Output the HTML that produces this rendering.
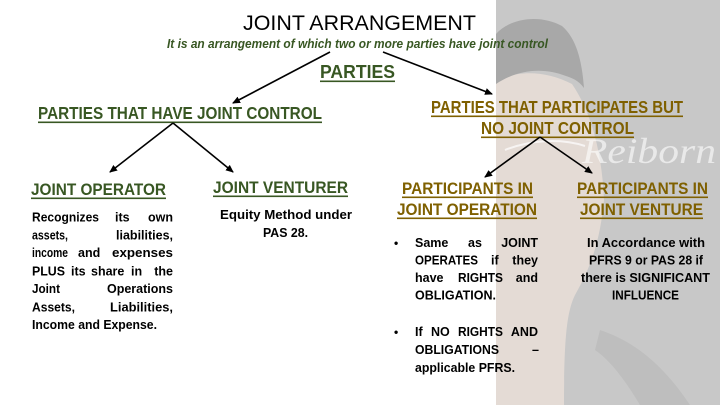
<!DOCTYPE html>
<html><head><meta charset="utf-8"><style>
html,body{margin:0;padding:0;background:#fff;}
svg{display:block;}
.h{font-family:"Liberation Sans",sans-serif;font-weight:bold;}
.p{font-family:"Liberation Sans",sans-serif;font-weight:bold;font-size:12.5px;fill:#000;}
.g{fill:#385723;}
.o{fill:#7f6000;}
</style></head><body>
<svg width="720" height="405" viewBox="0 0 720 405" xmlns="http://www.w3.org/2000/svg">
<defs>
<marker id="ah" markerWidth="8" markerHeight="8" refX="7" refY="4" orient="auto" markerUnits="userSpaceOnUse">
<path d="M0,0.5 L8,4 L0,7.5 Z" fill="#000"/>
</marker>
</defs>
<rect x="0" y="0" width="720" height="405" fill="#fff"/>
<!-- background photo approximation -->
<rect x="496" y="0" width="224" height="405" fill="#c8c8c8"/>
<path d="M496,82 C515,70 545,70 572,84 C590,110 602,150 604,200 C600,240 592,265 575,295 C568,310 564,330 564,405 L496,405 Z" fill="#e4dbd5"/>
<path d="M496,34 C510,18 540,14 562,26 C576,38 582,60 584,88 C578,80 572,78 566,76 C545,68 520,68 496,84 Z" fill="#a8a8a8"/>
<path d="M600,330 C630,340 660,360 690,405 L640,405 C625,380 610,360 595,350 Z" fill="#bebebe"/>
<path d="M505,150 C530,140 560,138 585,146" stroke="#ffffff" stroke-opacity="0.7" stroke-width="2" fill="none"/>
<text x="582" y="163" font-family="'Liberation Serif',serif" font-style="italic" font-size="36" fill="#ffffff" fill-opacity="0.6" textLength="134" lengthAdjust="spacingAndGlyphs">Reiborn</text>

<!-- title -->
<text x="243" y="30" font-family="'Liberation Sans',sans-serif" font-size="21.5" fill="#000" textLength="233" lengthAdjust="spacingAndGlyphs">JOINT ARRANGEMENT</text>
<text x="167" y="48" class="h g" font-style="italic" font-size="12.5" textLength="381" lengthAdjust="spacingAndGlyphs">It is an arrangement of which two or more parties have joint control</text>

<!-- PARTIES -->
<text x="320" y="78" class="h g" font-size="18" textLength="75" lengthAdjust="spacingAndGlyphs">PARTIES</text>
<rect x="320" y="80.5" width="75" height="1.6" fill="#385723"/>

<!-- level 2 -->
<text x="38" y="119" class="h g" font-size="17.5" textLength="284" lengthAdjust="spacingAndGlyphs">PARTIES THAT HAVE JOINT CONTROL</text>
<rect x="38" y="121.5" width="284" height="1.6" fill="#385723"/>

<text x="431" y="113" class="h o" font-size="17.5" textLength="252" lengthAdjust="spacingAndGlyphs">PARTIES THAT PARTICIPATES BUT</text>
<rect x="431" y="115.5" width="252" height="1.6" fill="#7f6000"/>
<text x="481" y="134" class="h o" font-size="17.5" textLength="153" lengthAdjust="spacingAndGlyphs">NO JOINT CONTROL</text>
<rect x="481" y="136.5" width="153" height="1.6" fill="#7f6000"/>

<!-- level 3 headings -->
<text x="31" y="195" class="h g" font-size="17" textLength="135" lengthAdjust="spacingAndGlyphs">JOINT OPERATOR</text>
<rect x="31" y="197.5" width="135" height="1.6" fill="#385723"/>
<text x="213" y="193" class="h g" font-size="17" textLength="135" lengthAdjust="spacingAndGlyphs">JOINT VENTURER</text>
<rect x="213" y="195.5" width="135" height="1.6" fill="#385723"/>

<text x="402" y="194" class="h o" font-size="17" textLength="131" lengthAdjust="spacingAndGlyphs">PARTICIPANTS IN</text>
<rect x="402" y="196.5" width="131" height="1.6" fill="#7f6000"/>
<text x="397" y="215" class="h o" font-size="17" textLength="140" lengthAdjust="spacingAndGlyphs">JOINT OPERATION</text>
<rect x="397" y="217.5" width="140" height="1.6" fill="#7f6000"/>

<text x="577" y="194" class="h o" font-size="17" textLength="131" lengthAdjust="spacingAndGlyphs">PARTICIPANTS IN</text>
<rect x="577" y="196.5" width="131" height="1.6" fill="#7f6000"/>
<text x="580" y="215" class="h o" font-size="17" textLength="123" lengthAdjust="spacingAndGlyphs">JOINT VENTURE</text>
<rect x="580" y="217.5" width="123" height="1.6" fill="#7f6000"/>

<!-- arrows -->
<g stroke="#000" stroke-width="1.6" fill="none">
<line x1="330" y1="52" x2="233" y2="103" marker-end="url(#ah)"/>
<line x1="383" y1="52" x2="492" y2="94" marker-end="url(#ah)"/>
<line x1="173" y1="123" x2="110" y2="172" marker-end="url(#ah)"/>
<line x1="173" y1="123" x2="233" y2="172" marker-end="url(#ah)"/>
<line x1="540" y1="137" x2="485" y2="177" marker-end="url(#ah)"/>
<line x1="540" y1="137" x2="592" y2="173" marker-end="url(#ah)"/>
</g>

<!-- Joint operator paragraph -->
<g class="p">
<text x="32" y="221.5" textLength="67" lengthAdjust="spacingAndGlyphs">Recognizes</text>
<text x="115" y="221.5">its</text>
<text x="173" y="221.5" text-anchor="end">own</text>

<text x="32" y="239.5" textLength="36" lengthAdjust="spacingAndGlyphs">assets,</text>
<text x="173" y="239.5" text-anchor="end">liabilities,</text>

<text x="32" y="257" textLength="36" lengthAdjust="spacingAndGlyphs">income</text>
<text x="78" y="257">and</text>
<text x="112" y="257" textLength="61" lengthAdjust="spacingAndGlyphs">expenses</text>

<text x="32" y="275.5" textLength="33" lengthAdjust="spacingAndGlyphs">PLUS</text>
<text x="71" y="275.5">its</text>
<text x="91" y="275.5">share</text>
<text x="131" y="275.5">in</text>
<text x="173" y="275.5" text-anchor="end">the</text>

<text x="32" y="293" textLength="28" lengthAdjust="spacingAndGlyphs">Joint</text>
<text x="107" y="293" textLength="66" lengthAdjust="spacingAndGlyphs">Operations</text>

<text x="32" y="311.5" textLength="43" lengthAdjust="spacingAndGlyphs">Assets,</text>
<text x="110" y="311.5" textLength="63" lengthAdjust="spacingAndGlyphs">Liabilities,</text>

<text x="32" y="329" textLength="125" lengthAdjust="spacingAndGlyphs">Income and Expense.</text>
</g>

<!-- Joint venturer paragraph -->
<g class="p">
<text x="220" y="219" textLength="132" lengthAdjust="spacingAndGlyphs">Equity Method under</text>
<text x="263" y="237" textLength="45" lengthAdjust="spacingAndGlyphs">PAS 28.</text>
</g>

<!-- Bullets -->
<g class="p">
<text x="394" y="247" font-size="12">•</text>
<text x="415" y="247">Same</text>
<text x="468" y="247">as</text>
<text x="538" y="247" text-anchor="end">JOINT</text>

<text x="415" y="264.5" textLength="63" lengthAdjust="spacingAndGlyphs">OPERATES</text>
<text x="491" y="264.5">if</text>
<text x="538" y="264.5" text-anchor="end">they</text>

<text x="415" y="282">have</text>
<text x="458" y="282" textLength="45" lengthAdjust="spacingAndGlyphs">RIGHTS</text>
<text x="538" y="282" text-anchor="end">and</text>

<text x="415" y="299.5" textLength="81" lengthAdjust="spacingAndGlyphs">OBLIGATION.</text>

<text x="394" y="336" font-size="12">•</text>
<text x="415" y="336">If</text>
<text x="431" y="336">NO</text>
<text x="458" y="336" textLength="45" lengthAdjust="spacingAndGlyphs">RIGHTS</text>
<text x="538" y="336" text-anchor="end">AND</text>

<text x="415" y="354" textLength="84" lengthAdjust="spacingAndGlyphs">OBLIGATIONS</text>
<text x="539" y="354" text-anchor="end">–</text>

<text x="415" y="372" textLength="100" lengthAdjust="spacingAndGlyphs">applicable PFRS.</text>
</g>

<!-- Joint venture paragraph -->
<g class="p">
<text x="587" y="247" textLength="118" lengthAdjust="spacingAndGlyphs">In Accordance with</text>
<text x="589" y="264.5" textLength="114" lengthAdjust="spacingAndGlyphs">PFRS 9 or PAS 28 if</text>
<text x="581" y="282" textLength="129" lengthAdjust="spacingAndGlyphs">there is SIGNIFICANT</text>
<text x="612" y="299.5" textLength="67" lengthAdjust="spacingAndGlyphs">INFLUENCE</text>
</g>
</svg>
</body></html>
